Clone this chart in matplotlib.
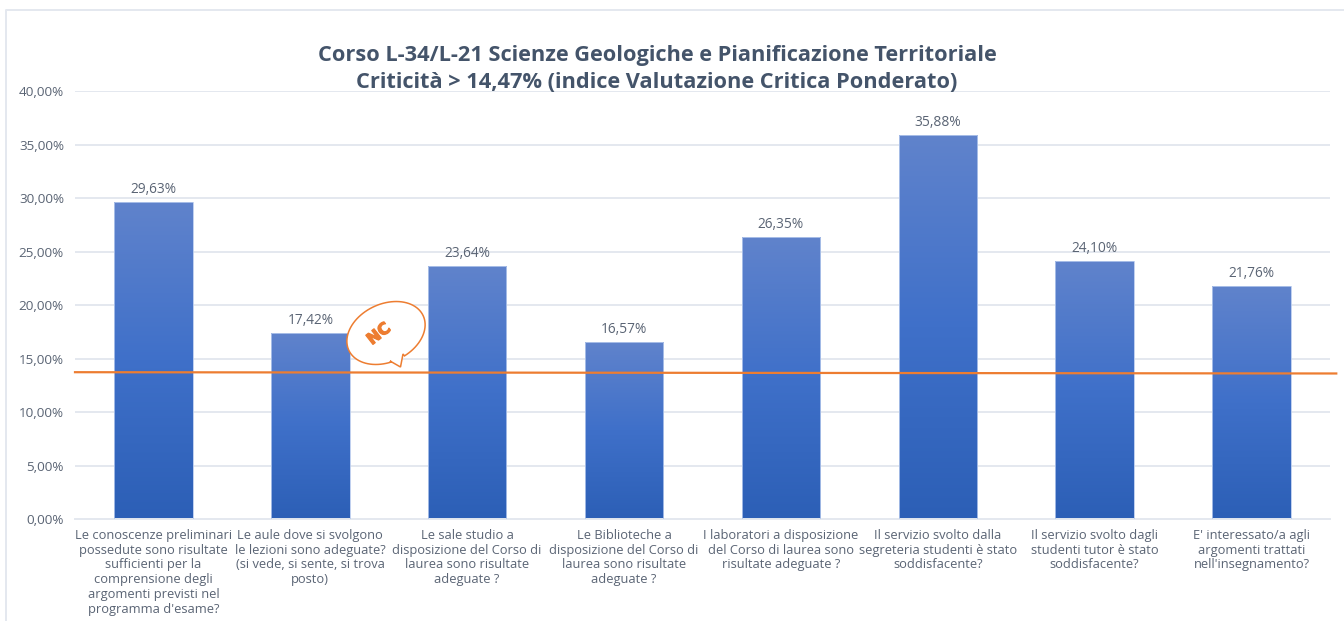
"""Corso L-34/L-21 bar chart with critical threshold line, saved to out.png."""
import numpy as np
import matplotlib
matplotlib.use("Agg")
import matplotlib.pyplot as plt
import matplotlib.patheffects as pe
from matplotlib.colors import LinearSegmentedColormap
from matplotlib.lines import Line2D
from matplotlib.patches import Polygon
from matplotlib.transforms import Affine2D

W, H = 1344, 621

labels = [
    "Le conoscenze preliminari\npossedute sono risultate\nsufficienti per la\ncomprensione degli\nargomenti previsti nel\nprogramma d'esame?",
    "Le aule dove si svolgono\nle lezioni sono adeguate?\n(si vede, si sente, si trova\nposto)",
    "Le sale studio a\ndisposizione del Corso di\nlaurea sono risultate\nadeguate ?",
    "Le Biblioteche a\ndisposizione del Corso di\nlaurea sono risultate\nadeguate ?",
    "I laboratori a disposizione\ndel Corso di laurea sono\nrisultate adeguate ?",
    "Il servizio svolto dalla\nsegreteria studenti è stato\nsoddisfacente?",
    "Il servizio svolto dagli\nstudenti tutor è stato\nsoddisfacente?",
    "E' interessato/a agli\nargomenti trattati\nnell'insegnamento?",
]
values = [29.63, 17.42, 23.64, 16.57, 26.35, 35.88, 24.10, 21.76]
yticks = [0, 5, 10, 15, 20, 25, 30, 35, 40]
line_x = [-0.5, 7.54]
line_y = [13.72, 13.6]

TEXT = "#5a6474"
GRID = "#e4e8ef"
ORANGE = "#ed7d31"

plt.rcParams["font.family"] = ["Open Sans", "DejaVu Sans"]

fig = plt.figure(figsize=(W / 100, H / 100), dpi=100)
ax = fig.add_axes([75 / W, 1 - 519 / H, (1330 - 75) / W, (519 - 91) / H])

x = np.arange(len(values))
bars = ax.bar(x, values, width=0.5, color="none", edgecolor="#b4c8ec", linewidth=0.6, zorder=3)

# vertical gradient inside each bar
cmap = LinearSegmentedColormap.from_list("bar", ["#2c5fb6", "#3f70c9", "#6083cc"])
grad = np.linspace(0, 1, 256).reshape(-1, 1)
for b in bars:
    im = ax.imshow(grad, cmap=cmap, origin="lower", aspect="auto", zorder=2,
                   extent=[b.get_x(), b.get_x() + b.get_width(), 0, b.get_height()])
    im.set_clip_path(b)

ax.set_xlim(-0.5, 7.5)
ax.set_ylim(0, 40)
ax.set_yticks(yticks)
ax.set_yticklabels([f"{t:.2f}%".replace(".", ",") for t in yticks], fontsize=9.7, color=TEXT)
ax.set_xticks([])
ax.tick_params(axis="y", length=0, pad=8)
ax.grid(axis="y", color=GRID, linewidth=1.4, zorder=0)
ax.set_axisbelow(True)
for side in ("top", "right", "left"):
    ax.spines[side].set_visible(False)
ax.spines["bottom"].set_color(GRID)
ax.spines["bottom"].set_linewidth(1.4)

for xi, v in zip(x, values):
    ax.annotate(f"{v:.2f}%".replace(".", ","), (xi, v), xytext=(0, 5), textcoords="offset pixels",
                ha="center", va="bottom", fontsize=9.9, color=TEXT, zorder=5)

for xi, lab in zip(x, labels):
    ax.annotate(lab, (xi, 0), xytext=(0, -10), textcoords="offset pixels", ha="center", va="top",
                fontsize=9.3, color=TEXT, linespacing=1.17, annotation_clip=False)

ax.plot(line_x, line_y, color=ORANGE, linewidth=1.6, zorder=4, clip_on=False)

fig.text(657 / W, 1 - 56 / H, "Corso L-34/L-21 Scienze Geologiche e Pianificazione Territoriale",
         ha="center", va="center", fontsize=15.7, fontweight="bold", color="#44546a")
fig.text(657 / W, 1 - 83 / H, "Criticità > 14,47% (indice Valutazione Critica Ponderato)",
         ha="center", va="center", fontsize=15.7, fontweight="bold", color="#44546a")

# chart frame, in pixels from the top left
px = Affine2D().scale(1 / W, -1 / H).translate(0, 1) + fig.transFigure
fig.add_artist(Line2D([6, 6, W], [H, 10, 10], color=GRID, linewidth=1.4, transform=px))

# NC speech bubble
t = np.radians(np.arange(0, 360, 4))
cx, cy, ra, rb, rot = 386, 333, 41, 29, np.radians(-25)
ex = cx + ra * np.cos(t) * np.cos(rot) - rb * np.sin(t) * np.sin(rot)
ey = cy + ra * np.cos(t) * np.sin(rot) + rb * np.sin(t) * np.cos(rot)
pts = np.column_stack([ex, ey])
start = np.argmin(np.hypot(ex - 403, ey - 354))
end = np.argmin(np.hypot(ex - 390, ey - 361))
outline = np.vstack([pts[end:], pts[:start + 1], [[403, 354], [400.5, 367], [390, 361]]])
fig.add_artist(Polygon(outline, closed=True, facecolor="white", edgecolor=ORANGE,
                       linewidth=1.1, transform=px, zorder=6))
fig.text(379 / W, 1 - 334 / H, "NC", ha="center", va="center", rotation=38, fontsize=11.5,
         fontweight="bold", color=ORANGE, zorder=7, family=["DejaVu Sans"],
         path_effects=[pe.withStroke(linewidth=0.9, foreground=ORANGE)])

fig.savefig("out.png", dpi=100)
